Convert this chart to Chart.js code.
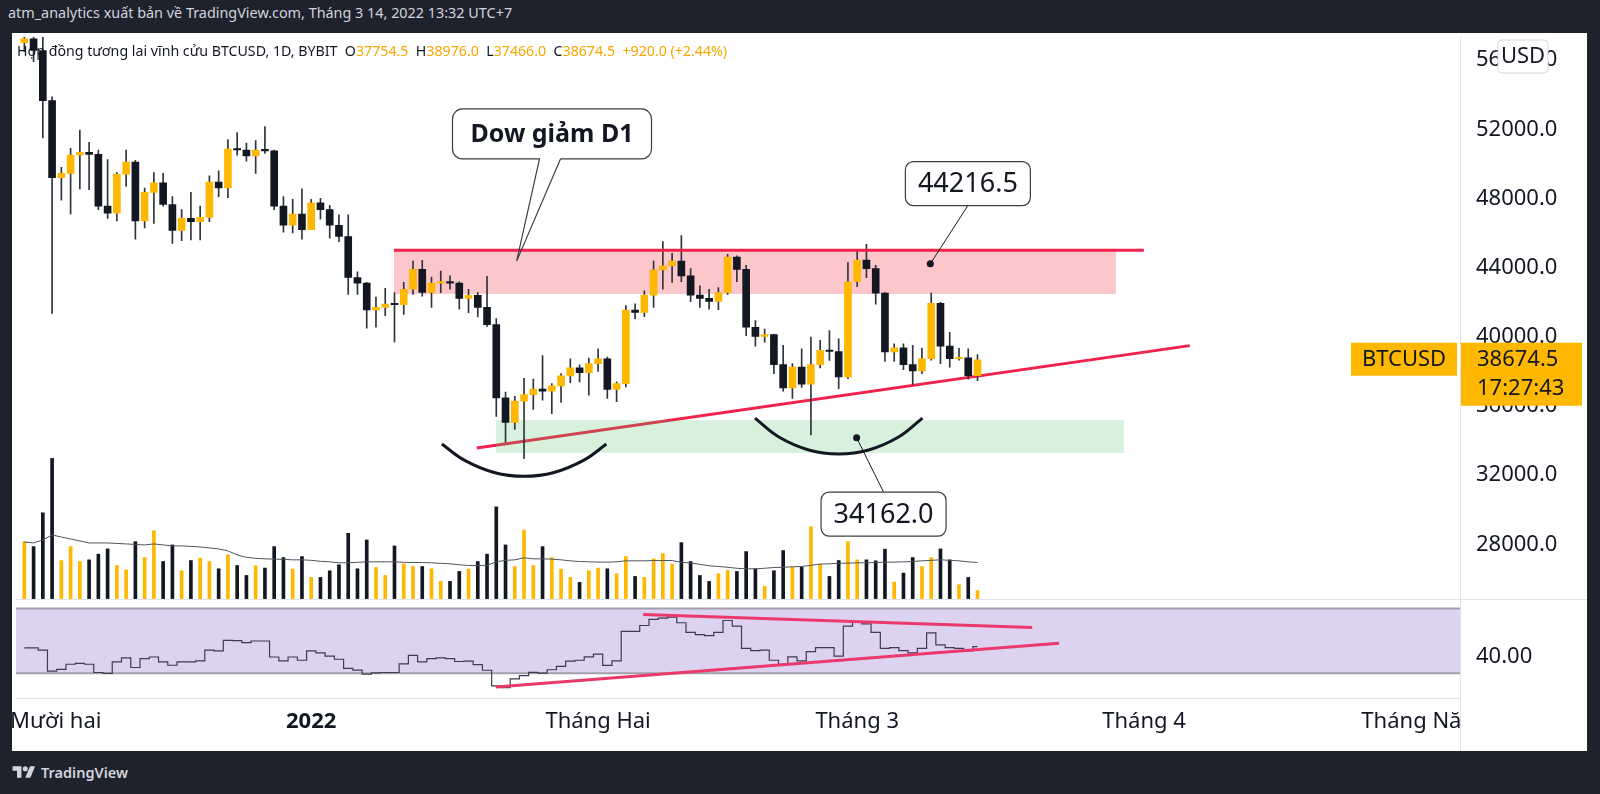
<!DOCTYPE html>
<html><head><meta charset="utf-8">
<script src="https://cdn.jsdelivr.net/npm/chart.js@4.4.1/dist/chart.umd.min.js"></script>
<style>
html,body{margin:0;padding:0;background:#1e222d;width:1600px;height:794px;overflow:hidden;font-family:'Noto Sans',sans-serif;}
#hdr{position:absolute;left:8px;top:3px;font-size:14.4px;color:#d1d4dc;line-height:20px;white-space:nowrap;}
#wrap{position:absolute;left:12px;top:33px;width:1575px;height:718px;background:#fff;}
#wrap canvas{position:absolute;left:0;top:0;}
#legend{position:absolute;left:5px;top:8px;font-size:14.2px;color:#131722;white-space:nowrap;line-height:20px;}
#legend .v{color:#f7a800;}
#footer{position:absolute;left:12px;top:763px;height:18px;display:flex;align-items:center;gap:5px;color:#d1d4dc;font-size:14.5px;font-weight:600;}
</style></head>
<body>
<div id="hdr">atm_analytics xuất bản về TradingView.com, Tháng 3 14, 2022 13:32 UTC+7</div>
<div id="wrap"><canvas id="c" width="1575" height="718"></canvas><div id="legend"></div></div>
<div id="footer"><svg width="24" height="14" viewBox="0 0 36 22"><path d="M14 20H7V9H0V2h14v18z" fill="#d1d4dc"/><circle cx="20" cy="6" r="4" fill="#d1d4dc"/><path d="M28 20h-8l7.5-18h8z" fill="#d1d4dc"/></svg><span>TradingView</span></div>
<script>
// ---------- data ----------
const symbolName = 'BTCUSD';
const legendTitle = 'Hợp đồng tương lai vĩnh cửu BTCUSD, 1D, BYBIT';
const countdown = '17:27:43';
const startDate = '2021-12-01';

const open = [57000,57230,56550,53650,49200,49450,50510,50660,50550,47550,47150,49400,50100,46700,48350,48900,47650,46150,46850,46650,46900,48950,48600,50850,50800,50450,50800,50750,47550,46450,47100,
46200,47750,47350,46450,45800,43430,43100,41550,41700,41890,41850,42750,43900,42560,43100,43150,43100,42220,42400,41700,40700,36470,35050,36280,36660,36970,36850,37160,37740,38200,37920,
38450,38730,36950,37290,41550,41410,42410,43870,44100,44380,43520,42410,42220,42050,42560,44610,43900,40550,40020,40130,38390,37050,38250,37260,38390,39210,39150,37680,
43180,44440,43940,42520,39120,39360,38390,38020,38730,41930,39460,38730,38790,37754.5];
const high = [59100,57400,57600,53870,49800,50900,51950,51250,50800,50250,49500,50800,50200,48600,49500,49450,48100,47350,48350,47550,49300,49600,51400,51800,51200,51350,52150,50800,48100,47950,48550,
47950,48000,47600,47050,47050,43750,43150,42300,42800,42550,43150,44380,44420,43450,43800,43520,43180,42750,42550,43500,41050,36800,36550,37600,37550,38920,37300,37870,38730,38380,38770,
39300,38830,37390,41800,41900,42660,44380,45500,44820,45850,43940,42950,42750,42850,44770,44680,44130,40940,40450,40150,39500,38450,39300,39980,39790,40360,39880,44290,
44960,45340,44130,42550,39590,39590,39500,39350,42520,41990,40260,39330,39300,38976];
const low = [56500,55900,51500,41350,47900,47100,48550,48500,47350,46850,46700,48700,45650,46300,46550,47550,45400,45550,45600,45600,46650,48100,48050,50500,50150,49450,50600,47350,46050,46000,45650,
46200,46800,45700,45500,42450,42450,40500,40550,41220,39700,41300,42450,42350,41700,42550,42750,41600,41400,41150,40600,35400,33900,34650,32950,35800,36340,35550,36200,37350,37390,36630,
38000,36430,36250,37100,41030,41170,41700,42750,43140,43180,42030,41700,41600,41570,42450,43180,40070,39460,39690,37870,36850,36430,37070,34330,38200,38640,37000,37580,
42900,43420,41890,38580,38580,38100,37240,37870,38650,38450,38250,38650,37550,37466];
const close = [57230,56550,53650,49200,49450,50510,50660,50550,47550,47150,49400,50100,46700,48350,48900,47650,46150,46850,46650,46900,48950,48600,50850,50800,50450,50800,50750,47550,46450,47100,46200,
47750,47350,46450,45800,43430,43100,41550,41700,41890,41850,42750,43900,42560,43100,43150,43100,42220,42400,41700,40700,36470,35050,36280,36660,36970,36850,37160,37740,38200,37920,38450,
38730,36950,37290,41550,41410,42410,43870,44100,44380,43520,42410,42220,42050,42560,44610,43900,40550,40020,40130,38390,37050,38250,37260,38390,39210,39150,37680,43180,
44440,43940,42520,39120,39360,38390,38020,38730,41930,39460,38730,38790,37754.5,38674.5];
const volume = [57.3,52.3,86.3,141,38.3,52.3,37.3,39,44.7,50,33.3,29,57.3,41.3,68.3,37.3,54,28,38.3,40.7,37.3,30,44,33.3,23.3,33,30.7,52.3,41.3,29.7,42.3,
21.3,21.3,28,34,65.7,30,59,31.3,23.3,53,35,32.3,32.3,30,17.3,17.3,27.3,29.7,37.3,44.7,92.3,54,32.3,69,33.3,52.3,41.3,29.7,21.3,16.3,28,
30.7,30,25,42.3,22.3,21.3,40,45.3,34.7,56.3,37.3,23.3,17.3,25,28.3,27.3,47.3,30,12.3,28,48.3,31.7,31.7,72.3,34.7,22.3,38.3,57.3,
39,39,38,49.7,16.7,25.7,41.3,32.3,41.3,50,39,14,21.3,8];
const volumeMA = [57,56,59,64,62,60,58,56,56,56,55.5,55,54.5,54,55,54,53,53,52.5,52,51,50,48,44,41.5,40.5,40,39.7,39.5,39,39,
38.5,37.5,37,36,36,36.5,37,37,37,37,36.5,36.3,36.3,36,35.5,35,34,33.3,33.3,33.5,37,38.5,39,41,40,40,39.7,39,38,37.3,37,
36.7,36.7,37,38,38,38,38.3,38.3,38.3,36.5,35.7,34.5,33,32.3,31.5,30.5,30,30,30.5,31.3,31.5,32,32.3,33.5,34.7,35,35.5,35.7,
36,36,36.3,36.7,36.7,37,37.3,38,38.5,39,38.5,38,37,36.3];
const rsi = [45.6,45.6,44.2,31.2,32.3,35.5,36.0,35.5,30.4,29.8,37.0,39.4,33.5,39.0,40.0,37.0,34.9,37.0,37.0,37.6,44.2,43.8,50.3,50.1,48.9,49.9,49.9,40.0,37.6,40.0,38.0,
43.8,42.5,40.5,38.6,32.9,31.9,29.4,30.2,30.4,30.4,35.7,41.0,37.0,39.0,39.4,39.0,37.2,37.4,35.3,31.8,22.1,21.1,26.4,28.5,30.5,30.0,32.1,34.2,37.4,38.0,40.1,
41.8,34.8,37.6,55.9,55.9,59.5,63.3,64.1,64.7,61.2,55.3,53.8,53.2,55.3,62.6,59.1,45.4,43.9,44.3,38.0,35.5,40.1,37.6,43.3,45.8,45.8,40.5,59.1,
61.6,60.5,55.3,45.4,45.8,43.9,42.6,45.4,54.9,47.5,45.8,45.4,43.7,46.4];

const priceTicks = [28000,32000,36000,40000,44000,48000,52000,56000];
const rsiTicks = [40];
const rsiBands = [70, 30];
const monthTickDates = ['2021-12-01','2022-01-01','2022-02-01','2022-03-01','2022-04-01','2022-05-01'];
const monthTickLabels = ['Mười hai','2022','Tháng Hai','Tháng 3','Tháng 4','Tháng Năm'];

// drawings (x in days from 2022-01-01, y in price / RSI)
const resistanceZoneX = [8.94, 86.96];
const resistanceZoneY = [42477, 45006];
const resistanceLineX = [8.94, 89.98];
const supportZoneX = [19.94, 87.82];
const supportZoneY = [33282, 35178];
const trendLine = [[17.89,33569],[94.94,39489]];
const arcLeft = [[14.12,33799],[16.54,32868],[19.77,32155],[23.01,31931],[26.24,32155],[29.47,32868],[31.90,33799]];
const arcRight = [[47.95,35293],[50.54,34201],[53.77,33454],[57.00,33224],[60.24,33454],[63.47,34201],[66.06,35293]];
const rsiUpperLine = [[35.88,66.3],[77.91,58.3]];
const rsiLowerLine = [[19.94,21.4],[80.82,48.5]];
const priceNoteAnchors = [[66.9,44216.5],[58.94,34162.0]];
const priceNoteBoxes = [[70.96,48856],[61.85,29747]];
const dowNote = {text:'Dow giảm D1', box:[26.02,51730], tip:[22.2,44374]};

// ---------- helpers ----------
const ORIGIN = Date.UTC(2022,0,1);
const dayOf = s => (Date.parse(s + 'T00:00:00Z') - ORIGIN) / 864e5;
const day0 = dayOf(startDate);
const days = open.map((_, i) => day0 + i);
const isUp = close.map((c, i) => c >= open[i]);
const UP = '#ffb800', DOWN = '#131722', WICK = '#30333d';
const FONT = "'Noto Sans', sans-serif";
const VIEW = {min: -31.9, max: 124.14};
const pts = arr => arr.map(([x, y]) => ({x, y}));

// legend
(function(){
  const n = close.length - 1;
  const chg = close[n] - close[n-1];
  const pct = chg / close[n-1] * 100;
  const f = v => v.toFixed(1);
  const s = (v) => (v >= 0 ? '+' : '') + v;
  document.getElementById('legend').innerHTML =
    legendTitle + '&nbsp;&nbsp;O<span class="v">' + f(open[n]) + '</span>&nbsp;&nbsp;H<span class="v">' + f(high[n]) +
    '</span>&nbsp;&nbsp;L<span class="v">' + f(low[n]) + '</span>&nbsp;&nbsp;C<span class="v">' + f(close[n]) +
    '</span>&nbsp;&nbsp;<span class="v">' + s(chg.toFixed(1)) + ' (' + s(pct.toFixed(2)) + '%)</span>';
})();

// ---------- overlay plugin ----------
function roundRectPath(ctx, l, t, w, h, r) {
  ctx.beginPath();
  ctx.moveTo(l + r, t);
  ctx.arcTo(l + w, t, l + w, t + h, r);
  ctx.arcTo(l + w, t + h, l, t + h, r);
  ctx.arcTo(l, t + h, l, t, r);
  ctx.arcTo(l, t, l + w, t, r);
  ctx.closePath();
}
const overlay = {
  id: 'tvOverlay',
  beforeDatasetsDraw(chart) {
    const {ctx, chartArea, scales} = chart;
    const yy = Math.round(scales.yRsi.top) + 0.5;
    ctx.save();
    ctx.strokeStyle = '#e0e3eb'; ctx.lineWidth = 1;
    ctx.beginPath(); ctx.moveTo(chartArea.left, yy); ctx.lineTo(chart.width, yy); ctx.stroke();
    ctx.restore();
  },
  afterDatasetsDraw(chart) {
    const {ctx, scales: {x, y}} = chart;
    ctx.save();
    // price notes
    priceNoteAnchors.forEach((a, i) => {
      const ax = x.getPixelForValue(a[0]), ay = y.getPixelForValue(a[1]);
      const bx = x.getPixelForValue(priceNoteBoxes[i][0]), by = y.getPixelForValue(priceNoteBoxes[i][1]);
      const w = 125, h = 44;
      const ey = by < ay ? by + h / 2 : by - h / 2;
      ctx.strokeStyle = '#131722'; ctx.lineWidth = 1;
      ctx.beginPath(); ctx.moveTo(ax, ay); ctx.lineTo(bx, ey); ctx.stroke();
      roundRectPath(ctx, bx - w / 2, by - h / 2, w, h, 8);
      ctx.fillStyle = '#fff'; ctx.fill();
      ctx.strokeStyle = '#3b3e47'; ctx.lineWidth = 1.2; ctx.stroke();
      ctx.fillStyle = '#131722'; ctx.font = '27px ' + FONT;
      ctx.textAlign = 'center'; ctx.textBaseline = 'middle';
      ctx.fillText(a[1].toFixed(1), bx, by + 1);
    });
    // Dow balloon
    const bx = x.getPixelForValue(dowNote.box[0]), by = y.getPixelForValue(dowNote.box[1]);
    const tx = x.getPixelForValue(dowNote.tip[0]), ty = y.getPixelForValue(dowNote.tip[1]);
    const w = 199, h = 50, r = 10;
    const l = bx - w / 2, t = by - h / 2, R = l + w, B = t + h;
    roundRectPath(ctx, l, t, w, h, r);
    ctx.fillStyle = '#fff'; ctx.fill();
    const b0 = bx - 12.5, b1 = bx + 8.5;
    ctx.beginPath();
    ctx.moveTo(b1, B);
    ctx.lineTo(R - r, B); ctx.arcTo(R, B, R, B - r, r);
    ctx.lineTo(R, t + r); ctx.arcTo(R, t, R - r, t, r);
    ctx.lineTo(l + r, t); ctx.arcTo(l, t, l, t + r, r);
    ctx.lineTo(l, B - r); ctx.arcTo(l, B, l + r, B, r);
    ctx.lineTo(b0, B); ctx.lineTo(tx, ty); ctx.lineTo(b1, B);
    ctx.strokeStyle = '#3b3e47'; ctx.lineWidth = 1.2; ctx.stroke();
    ctx.fillStyle = '#131722'; ctx.font = 'bold 25px ' + FONT;
    ctx.textAlign = 'center'; ctx.textBaseline = 'middle';
    ctx.fillText(dowNote.text, bx, by + 1);
    ctx.restore();
  },
  afterDraw(chart) {
    const {ctx, chartArea, scales: {y}} = chart;
    const ax = chartArea.right;
    ctx.save();
    // bottom-right corner of the price axis
    ctx.fillStyle = '#fff';
    ctx.fillRect(ax + 1, chartArea.bottom + 1, chart.width - ax - 1, chart.height - chartArea.bottom - 1);
    ctx.strokeStyle = '#e0e3eb'; ctx.lineWidth = 1;
    ctx.beginPath(); ctx.moveTo(ax + 0.5, chartArea.bottom); ctx.lineTo(ax + 0.5, chart.height); ctx.stroke();
    // last price label
    const last = close[close.length - 1];
    const py = y.getPixelForValue(last);
    ctx.fillStyle = UP;
    ctx.fillRect(ax + 1, py - 17, 121, 63);
    ctx.fillRect(ax - 109, py - 17, 106, 33);
    ctx.fillStyle = '#131722'; ctx.font = '22px ' + FONT; ctx.textBaseline = 'middle';
    ctx.textAlign = 'left';
    ctx.fillText(last.toFixed(1), ax + 17, py);
    ctx.fillText(countdown, ax + 17, py + 29);
    ctx.textAlign = 'center';
    ctx.fillText(symbolName, ax - 56, py);
    // currency button
    roundRectPath(ctx, ax + 38, 7, 50, 33, 4);
    ctx.fillStyle = '#fff'; ctx.fill();
    ctx.strokeStyle = '#d6d8de'; ctx.lineWidth = 1; ctx.stroke();
    ctx.fillStyle = '#131722';
    ctx.fillText('USD', ax + 63, 24);
    ctx.restore();
  }
};

// ---------- chart ----------
const lineDS = (data, extra) => Object.assign({type: 'line', data, pointRadius: 0, borderWidth: 0, yAxisID: 'y'}, extra);
const noPadY = s => { s.width = 127; s.paddingTop = 0; s.paddingBottom = 0; };

new Chart(document.getElementById('c'), {
  type: 'bar',
  data: {
    datasets: [
      lineDS(pts(resistanceZoneX.map(v => [v, resistanceZoneY[1]])), {fill: {value: resistanceZoneY[0]}, backgroundColor: 'rgba(242,54,69,0.28)', order: 30}),
      lineDS(pts(trendLine), {borderColor: '#f2224c', borderWidth: 3, order: 29}),
      lineDS(pts(supportZoneX.map(v => [v, supportZoneY[1]])), {fill: {value: supportZoneY[0]}, backgroundColor: 'rgba(76,190,95,0.22)', order: 28}),
      {type: 'bar', data: days.map((d, i) => ({x: d, y: volume[i]})), backgroundColor: isUp.map(u => u ? UP : DOWN), barThickness: 3, grouped: false, yAxisID: 'yVol', order: 27},
      lineDS(days.map((d, i) => ({x: d, y: volumeMA[i]})), {borderColor: '#50535e', borderWidth: 1, yAxisID: 'yVol', order: 26}),
      {type: 'bar', data: days.map((d, i) => ({x: d, y: [low[i], high[i]]})), backgroundColor: WICK, barThickness: 1, grouped: false, yAxisID: 'y', order: 25},
      {type: 'bar', data: days.map((d, i) => ({x: d, y: [Math.min(open[i], close[i]), Math.max(open[i], close[i])]})), backgroundColor: isUp.map(u => u ? UP : DOWN), barThickness: 7, minBarLength: 1.5, grouped: false, yAxisID: 'y', order: 24},
      lineDS(pts(resistanceLineX.map(v => [v, resistanceZoneY[1]])), {borderColor: '#f2224c', borderWidth: 3, order: 20}),
      lineDS(pts(arcLeft), {borderColor: '#131722', borderWidth: 3, tension: 0.4, order: 19}),
      lineDS(pts(arcRight), {borderColor: '#131722', borderWidth: 3, tension: 0.4, order: 18}),
      lineDS(pts(priceNoteAnchors), {showLine: false, pointRadius: 3.5, pointBackgroundColor: '#131722', pointBorderWidth: 0, order: 17}),
      // RSI pane
      lineDS([{x: VIEW.min, y: rsiBands[0]}, {x: VIEW.max, y: rsiBands[0]}], {yAxisID: 'yRsi', fill: {value: rsiBands[1]}, backgroundColor: '#ddd2f0', borderColor: '#a3a0ae', borderWidth: 2, order: 16}),
      lineDS([{x: VIEW.min, y: rsiBands[1]}, {x: VIEW.max, y: rsiBands[1]}], {yAxisID: 'yRsi', borderColor: '#a3a0ae', borderWidth: 2, order: 15}),
      lineDS(days.map((d, i) => ({x: d, y: rsi[i]})), {yAxisID: 'yRsi', stepped: 'middle', borderColor: '#3e3b52', borderWidth: 1.2, order: 14}),
      lineDS(pts(rsiUpperLine), {yAxisID: 'yRsi', borderColor: '#ea3a6c', borderWidth: 3, order: 13}),
      lineDS(pts(rsiLowerLine), {yAxisID: 'yRsi', borderColor: '#ea3a6c', borderWidth: 3, order: 12})
    ]
  },
  options: {
    responsive: false,
    animation: false,
    devicePixelRatio: 1,
    events: [],
    layout: {padding: 0},
    plugins: {legend: {display: false}, tooltip: {enabled: false}},
    scales: {
      x: {
        type: 'linear', min: VIEW.min, max: VIEW.max, offset: false,
        grid: {color: 'transparent', drawTicks: false},
        border: {display: true, color: '#e0e3eb'},
        afterBuildTicks: s => { s.ticks = monthTickDates.map(d => ({value: Math.max(dayOf(d), s.min + 4.3)})); },
        afterFit: s => { s.height = 53; s.paddingLeft = 0; s.paddingRight = 0; },
        ticks: {
          autoSkip: false, maxRotation: 0, padding: 11, color: '#131722',
          font: c => ({family: FONT, size: 22, weight: monthTickLabels[c.index] === '2022' ? 'bold' : 'normal'}),
          callback: (v, i) => monthTickLabels[i]
        }
      },
      y: {
        type: 'linear', position: 'right', stack: 'panes', stackWeight: 565,
        min: 24862, max: 57333,
        grid: {color: 'transparent', drawTicks: false},
        border: {display: true, color: '#e0e3eb'},
        afterBuildTicks: s => { s.ticks = priceTicks.map(v => ({value: v})); },
        afterFit: noPadY,
        ticks: {autoSkip: false, padding: 16, color: '#131722', font: {family: FONT, size: 22}, callback: v => v.toFixed(1)}
      },
      yRsi: {
        type: 'linear', position: 'right', stack: 'panes', stackWeight: 100,
        min: 14.615, max: 76.154,
        grid: {color: 'transparent', drawTicks: false},
        border: {display: true, color: '#e0e3eb'},
        afterBuildTicks: s => { s.ticks = rsiTicks.map(v => ({value: v})); },
        afterFit: noPadY,
        ticks: {autoSkip: false, padding: 16, color: '#131722', font: {family: FONT, size: 22}, callback: v => v.toFixed(2)}
      },
      yVol: {type: 'linear', position: 'right', display: false, min: -100, max: 565, afterFit: s => { s.paddingTop = 0; s.paddingBottom = 0; }}
    }
  },
  plugins: [overlay]
});
</script>
</body></html>
